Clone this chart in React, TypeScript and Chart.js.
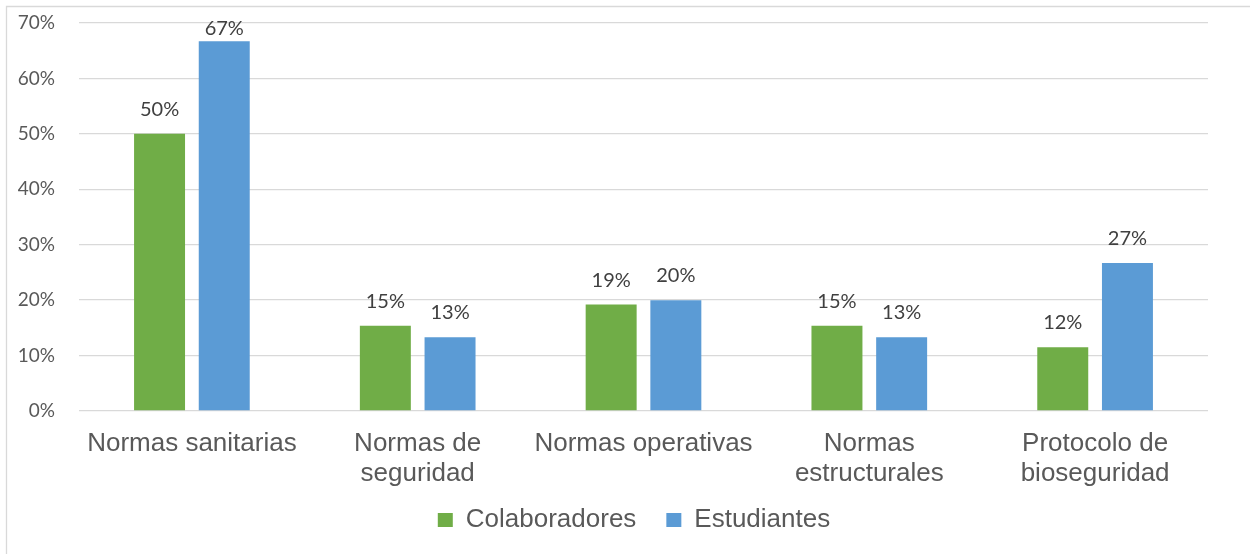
import React, { useEffect, useRef } from "react";
import { Chart, registerables } from "chart.js";

Chart.register(...registerables);

const categories: (string | string[])[] = [
  "Normas sanitarias",
  ["Normas de", "seguridad"],
  "Normas operativas",
  ["Normas", "estructurales"],
  ["Protocolo de", "bioseguridad"],
];
const seriesNames = ["Colaboradores", "Estudiantes"];
const colaboradores = [50, 15.4, 19.2, 15.4, 11.5];
const estudiantes = [66.7, 13.3, 20, 13.3, 26.7];
const yTicks = [0, 10, 20, 30, 40, 50, 60, 70];

const GREEN = "#70ad47";
const BLUE = "#5b9bd5";
const TEXT = "#595959";

const framePlugin = {
  id: "frame",
  afterLayout(chart: any) {
    // widen the label clip boxes of the axes so no tick text is cut
    const y = chart.scales.y;
    y.left = 0;
    y.width = y.right - y.left;
    const x = chart.scales.x;
    x.bottom = x.top + 90;
    x.height = 90;
  },
  beforeDraw(chart: any) {
    const ctx = chart.ctx;
    ctx.save();
    ctx.fillStyle = "#ffffff";
    ctx.fillRect(0, 0, chart.width, chart.height);
    ctx.strokeStyle = "#d9d9d9";
    ctx.lineWidth = 1.3;
    ctx.beginPath();
    ctx.moveTo(6.5, chart.height + 5);
    ctx.lineTo(6.5, 6.5);
    ctx.lineTo(chart.width + 5, 6.5);
    ctx.stroke();
    ctx.restore();
  },
};

const labelPlugin = {
  id: "valueLabels",
  afterDatasetsDraw(chart: any) {
    const ctx = chart.ctx;
    ctx.save();
    ctx.font = "20px Lato";
    ctx.fillStyle = "#404040";
    ctx.textAlign = "center";
    ctx.textBaseline = "alphabetic";
    chart.data.datasets.forEach((ds: any, di: number) => {
      const meta = chart.getDatasetMeta(di);
      meta.data.forEach((bar: any, i: number) => {
        const v = ds.data[i];
        const y = Math.max(bar.y - 18, chart.chartArea.top + 12);
        ctx.fillText(Math.round(v) + "%", bar.x, y);
      });
    });
    ctx.restore();
  },
};

export default function App() {
  const ref = useRef<HTMLCanvasElement>(null);
  useEffect(() => {
    if (!ref.current) return;
    const chart = new Chart(ref.current, {
      type: "bar",
      data: {
        labels: categories,
        datasets: [
          {
            label: seriesNames[0],
            data: colaboradores,
            backgroundColor: GREEN,
            categoryPercentage: 0.573,
            barPercentage: 0.788,
          },
          {
            label: seriesNames[1],
            data: estudiantes,
            backgroundColor: BLUE,
            categoryPercentage: 0.573,
            barPercentage: 0.788,
          },
        ],
      },
      options: {
        animation: false,
        responsive: false,
        maintainAspectRatio: false,
        layout: { padding: { left: 60, right: 42, top: 23, bottom: 11 } },
        plugins: {
          legend: {
            position: "bottom",
            labels: {
              font: { family: "'Liberation Sans', Arial", size: 26 },
              color: TEXT,
              boxWidth: 15,
              boxHeight: 14,
              padding: 30,
            },
          },
          tooltip: { enabled: false },
        },
        scales: {
          x: {
            grid: { display: false, drawTicks: false },
            border: { display: false },
            ticks: {
              font: { family: "'Liberation Sans', Arial", size: 26, lineHeight: "30px" },
              color: TEXT,
              padding: 18,
              maxRotation: 0,
              autoSkip: false,
            },
            afterFit(scale: any) {
              scale.height = 66;
            },
          },
          y: {
            min: 0,
            max: 70,
            grid: {
              color: "#d9d9d9",
              lineWidth: 1.3,
              drawTicks: true,
              tickLength: 24,
              tickColor: "rgba(0,0,0,0)",
            },
            border: { display: false },
            afterBuildTicks(scale: any) {
              scale.ticks = yTicks.map((v) => ({ value: v }));
            },
            ticks: {
              font: { family: "Lato", size: 19 },
              color: TEXT,
              padding: 0,
              autoSkip: false,
              callback: (v: any) => v + "%",
            },
            afterFit(scale: any) {
              scale.width = 19;
            },
          },
        },
      },
      plugins: [framePlugin, labelPlugin],
    });
    return () => chart.destroy();
  }, []);
  return (
    <div style={{ position: "fixed", left: 0, top: 0, width: 1250, height: 554 }}>
      <canvas ref={ref} width={1250} height={554} style={{ display: "block" }} />
    </div>
  );
}
